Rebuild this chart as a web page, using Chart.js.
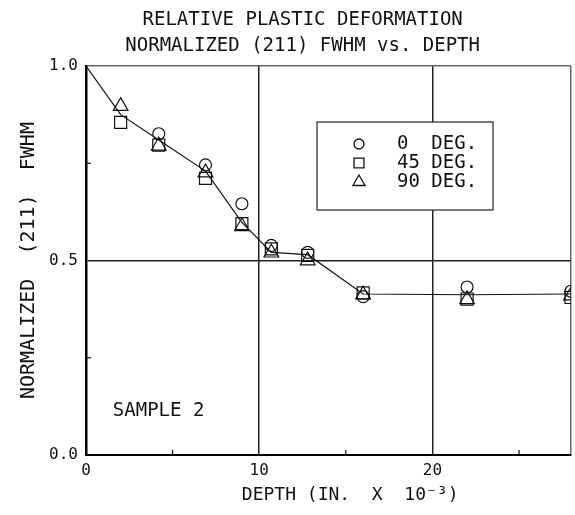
<!DOCTYPE html>
<html>
<head>
<meta charset="utf-8">
<script src="https://cdn.jsdelivr.net/npm/chart.js@4.4.0/dist/chart.umd.min.js"></script>
<style>
  html, body { margin: 0; padding: 0; background: #fff; }
  #wrap { width: 575px; height: 515px; }
</style>
</head>
<body>
<div id="wrap"><canvas id="myChart"></canvas></div>
<script>
// values
const depth = [2, 4.2, 6.9, 9.0, 10.7, 12.8, 16.0, 22.0, 28.0];
const deg0  = [null, 0.826, 0.746, 0.646, 0.539, 0.521, 0.407, 0.432, 0.421];
const deg45 = [0.855, 0.797, 0.711, 0.595, 0.530, 0.513, 0.417, 0.401, 0.405];
const deg90 = [0.897, 0.795, 0.726, 0.588, 0.520, 0.500, 0.412, 0.400, 0.410];

// hand drawn trend line
const fitDepth = [0, 2, 4.2, 6.9, 9.0, 10.7, 12.8, 16.0, 22.0, 28.0];
const fitValue = [1.0, 0.875, 0.81, 0.73, 0.598, 0.521, 0.515, 0.414, 0.412, 0.414];

const seriesLabels = ['0  DEG.', '45 DEG.', '90 DEG.'];
const xTicks = [0, 10, 20];
const yTicks = [0, 0.5, 1.0];
const xMinor = [5, 15, 25];
const yMinor = [0.25, 0.75];
const xMax = 28;

const FONT = "'DejaVu Sans Mono', monospace";

function pts(xs, ys) {
    return xs.map((x, i) => ({ x: x, y: ys[i] })).filter(p => p.y !== null);
}

const markerStyle = {
    borderColor: '#111',
    pointBorderColor: '#111',
    pointBackgroundColor: 'rgba(0,0,0,0)',
    pointBorderWidth: 1.2,
    showLine: false
};

// minor ticks, legend box and the sample note
const extras = {
    id: 'extras',
    afterDatasetsDraw(chart) {
        const { ctx, chartArea } = chart;
        const x = chart.scales.x, y = chart.scales.y;
        ctx.save();
        ctx.strokeStyle = '#111';
        ctx.lineWidth = 1.2;
        xMinor.forEach(v => {
            const px = x.getPixelForValue(v);
            ctx.beginPath();
            ctx.moveTo(px, chartArea.bottom);
            ctx.lineTo(px, chartArea.bottom - 5);
            ctx.stroke();
        });
        yMinor.forEach(v => {
            const py = y.getPixelForValue(v);
            ctx.beginPath();
            ctx.moveTo(chartArea.left, py);
            ctx.lineTo(chartArea.left + 5, py);
            ctx.stroke();
        });

        // legend
        ctx.fillStyle = '#fff';
        ctx.fillRect(317, 122, 176, 88);
        ctx.strokeStyle = '#333';
        ctx.lineWidth = 1.3;
        ctx.strokeRect(317, 122, 176, 88);
        const legendRadius = [5, 7, 7];
        ctx.font = '19px ' + FONT;
        ctx.textBaseline = 'middle';
        ctx.textAlign = 'left';
        chart.data.datasets.filter(d => d.label).forEach((d, i) => {
            const yy = 144 + i * 19;
            ctx.strokeStyle = '#111';
            ctx.fillStyle = 'rgba(0,0,0,0)';
            Chart.helpers.drawPoint(ctx, { pointStyle: d.pointStyle, radius: legendRadius[i], rotation: 0, borderWidth: 1.2 }, 359, yy);
            ctx.fillStyle = '#111';
            ctx.fillText(d.label, 397, yy);
        });

        ctx.fillStyle = '#111';
        ctx.fillText('SAMPLE 2', x.getPixelForValue(1.55), y.getPixelForValue(0.113));
        ctx.restore();
    }
};

const ctx = document.getElementById('myChart').getContext('2d');
const myChart = new Chart(ctx, {
    type: 'scatter',
    data: {
        datasets: [
            Object.assign({ label: seriesLabels[0], data: pts(depth, deg0), pointStyle: 'circle', pointRadius: 6 }, markerStyle),
            Object.assign({ label: seriesLabels[1], data: pts(depth, deg45), pointStyle: 'rect', pointRadius: 8.5 }, markerStyle),
            Object.assign({ label: seriesLabels[2], data: pts(depth, deg90), pointStyle: 'triangle', pointRadius: 8.5 }, markerStyle),
            {
                data: pts(fitDepth, fitValue),
                showLine: true,
                borderColor: '#111',
                borderWidth: 1.2,
                pointRadius: 0,
                tension: 0
            }
        ]
    },
    options: {
        responsive: true,
        maintainAspectRatio: false,
        animation: false,
        devicePixelRatio: 1,
        layout: {
            autoPadding: false,
            padding: { left: 0, right: 4, top: 0, bottom: 0 }
        },
        plugins: {
            legend: { display: false },
            tooltip: { enabled: false },
            title: {
                display: true,
                text: ['   RELATIVE PLASTIC DEFORMATION', '   NORMALIZED (211) FWHM vs. DEPTH'],
                color: '#111',
                font: { family: FONT, size: 19, weight: 'normal', lineHeight: 1.37 },
                padding: { top: 7, bottom: 7 }
            }
        },
        scales: {
            x: {
                type: 'linear',
                min: 0,
                max: xMax,
                afterBuildTicks: s => { s.ticks = xTicks.concat([xMax]).map(v => ({ value: v })); },
                afterFit: s => { s.height = 60; s.paddingLeft = 0; s.paddingRight = 0; },
                ticks: {
                    autoSkip: false,
                    maxRotation: 0,
                    padding: 6,
                    color: '#111',
                    font: { family: FONT, size: 16 },
                    callback: v => xTicks.includes(v) ? String(v) : ''
                },
                grid: {
                    drawTicks: false,
                    lineWidth: 1.5,
                    color: c => c.tick && c.tick.value === xMax ? '#666' : (c.tick && c.tick.value === 0 ? 'rgba(0,0,0,0)' : '#222')
                },
                border: { display: true, color: '#000', width: 2 },
                title: {
                    display: true,
                    text: '    DEPTH (IN.  X  10\u207B\u00B3)',
                    color: '#111',
                    font: { family: FONT, size: 18 },
                    padding: { top: 0, bottom: 9 }
                }
            },
            y: {
                min: 0,
                max: 1,
                afterBuildTicks: s => { s.ticks = yTicks.map(v => ({ value: v })); },
                afterFit: s => { s.width = 86; },
                ticks: {
                    padding: 8,
                    color: '#111',
                    font: { family: FONT, size: 16 },
                    callback: v => v.toFixed(1)
                },
                grid: {
                    drawTicks: false,
                    lineWidth: 1.5,
                    color: c => c.tick && c.tick.value === 1 ? '#666' : (c.tick && c.tick.value === 0.5 ? '#222' : 'rgba(0,0,0,0)')
                },
                border: { display: true, color: '#000', width: 2.5 },
                title: {
                    display: true,
                    text: 'NORMALIZED  (211)  FWHM',
                    color: '#111',
                    font: { family: FONT, size: 20 },
                    padding: { top: 17, bottom: 0 }
                }
            }
        }
    },
    plugins: [extras]
});
</script>
</body>
</html>
